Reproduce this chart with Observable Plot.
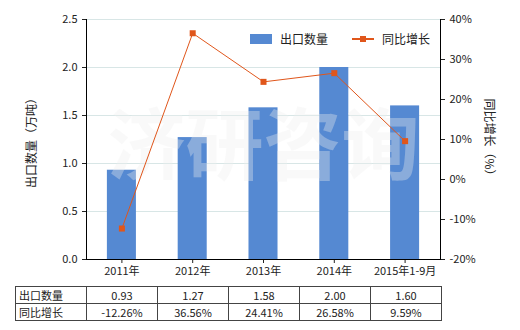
<!DOCTYPE html>
<html><head><meta charset="utf-8">
<script src="https://cdn.jsdelivr.net/npm/d3@7"></script>
<script src="https://cdn.jsdelivr.net/npm/@observablehq/plot@0.6"></script>
<style>
body{margin:0;background:#fff;font-family:"Noto Sans CJK SC","DejaVu Sans",sans-serif;}
#wrap{position:relative;width:520px;height:330px;overflow:hidden;}
.abs{position:absolute;white-space:nowrap;color:#222;font-size:12px;}
table{position:absolute;left:15px;top:286px;border-collapse:collapse;font-size:11px;color:#222;}
td{border:1px solid #444;height:16px;padding:0;text-align:center;width:70px;line-height:16px;}
td.h{text-align:left;padding-left:3px;width:67px;}
</style></head>
<body><div id="wrap"></div>
<script>
const categories = ["2011年","2012年","2013年","2014年","2015年1-9月"];
const exportQty = [0.93, 1.27, 1.58, 2.00, 1.60];
const growth = [-12.26, 36.56, 24.41, 26.58, 9.59];
const exportLabels = ["0.93","1.27","1.58","2.00","1.60"];
const growthLabels = ["-12.26%","36.56%","24.41%","26.58%","9.59%"];
const leftTicks = [0, 0.5, 1.0, 1.5, 2.0, 2.5];
const rightTicks = [-20, -10, 0, 10, 20, 30, 40];

const barColor = "#5589d2";
const lineColor = "#e0561b";
const toLeft = p => (p + 20) / 60 * 2.5;
const fromLeft = v => v / 2.5 * 60 - 20;

const data = categories.map((c, i) => ({c, q: exportQty[i], g: growth[i], gy: toLeft(growth[i])}));

const plot = Plot.plot({
  width: 520, height: 285,
  marginLeft: 86, marginRight: 80, marginTop: 19, marginBottom: 26,
  style: {fontFamily: '"Noto Sans CJK SC","DejaVu Sans",sans-serif', fontSize: "11px", color: "#222", background: "transparent"},
  x: {domain: categories, paddingInner: 0.59, paddingOuter: 0.295, round: false, label: null},
  y: {domain: [0, 2.5], label: null},
  marks: [
    Plot.gridY(leftTicks, {stroke: "#d8e6e6", strokeOpacity: 1}),
    Plot.barY(data, {x: "c", y: "q", fill: barColor}),
    Plot.text(["济研咨询"], {frameAnchor: "middle", dy: 10, fontSize: 78, fontWeight: "bold", fill: "#eeeeee", fillOpacity: 0.35}),
    Plot.line(data, {x: "c", y: "gy", stroke: lineColor, strokeWidth: 1}),
    Plot.dot(data, {x: "c", y: "gy", symbol: "square", r: 3.4, fill: lineColor, stroke: null}),
    Plot.axisY({ticks: leftTicks, tickFormat: d3.format(".1f"), tickSize: 4, label: null, anchor: "left"}),
    Plot.axisY({anchor: "right", ticks: rightTicks.map(toLeft), tickFormat: d => Math.round(fromLeft(d)) + "%", tickSize: 4, label: null}),
    Plot.axisX({tickSize: 4, label: null, tickPadding: 4}),
    Plot.frame({anchor: "left", stroke: "#000"}),
    Plot.frame({anchor: "right", stroke: "#000"}),
    Plot.frame({anchor: "bottom", stroke: "#000"})
  ]
});
const wrap = document.getElementById("wrap");
plot.style.position = "absolute"; plot.style.left = "0"; plot.style.top = "0";
wrap.appendChild(plot);

// axis titles
const lt = document.createElement("div");
lt.className = "abs"; lt.textContent = "出口数量（万吨）";
lt.style.cssText += "left:30px;top:140px;transform:translate(-50%,-50%) rotate(-90deg);font-size:12px;";
wrap.appendChild(lt);
const rt = document.createElement("div");
rt.className = "abs"; rt.textContent = "同比增长（%）";
rt.style.cssText += "left:490px;top:140px;transform:translate(-50%,-50%) rotate(90deg);font-size:12px;";
wrap.appendChild(rt);

// legend
const lg = document.createElement("div");
lg.className = "abs";
lg.style.cssText += "left:250px;top:30px;font-size:12px;display:flex;align-items:center;";
lg.innerHTML = `<span style="display:inline-block;width:22px;height:10px;background:${barColor};margin-right:8px"></span><span>出口数量</span>
<span style="position:relative;display:inline-block;width:22px;height:10px;margin-left:24px;margin-right:8px"><span style="position:absolute;left:0;top:4px;width:22px;height:2px;background:${lineColor}"></span><span style="position:absolute;left:8px;top:2px;width:6px;height:6px;background:${lineColor}"></span></span><span>同比增长</span>`;
wrap.appendChild(lg);

// data table
const tb = document.createElement("table");
const r1 = "<tr><td class='h'>出口数量</td>" + exportLabels.map(v => `<td>${v}</td>`).join("") + "</tr>";
const r2 = "<tr><td class='h'>同比增长</td>" + growthLabels.map(v => `<td>${v}</td>`).join("") + "</tr>";
tb.innerHTML = r1 + r2;
wrap.appendChild(tb);
</script></body></html>
